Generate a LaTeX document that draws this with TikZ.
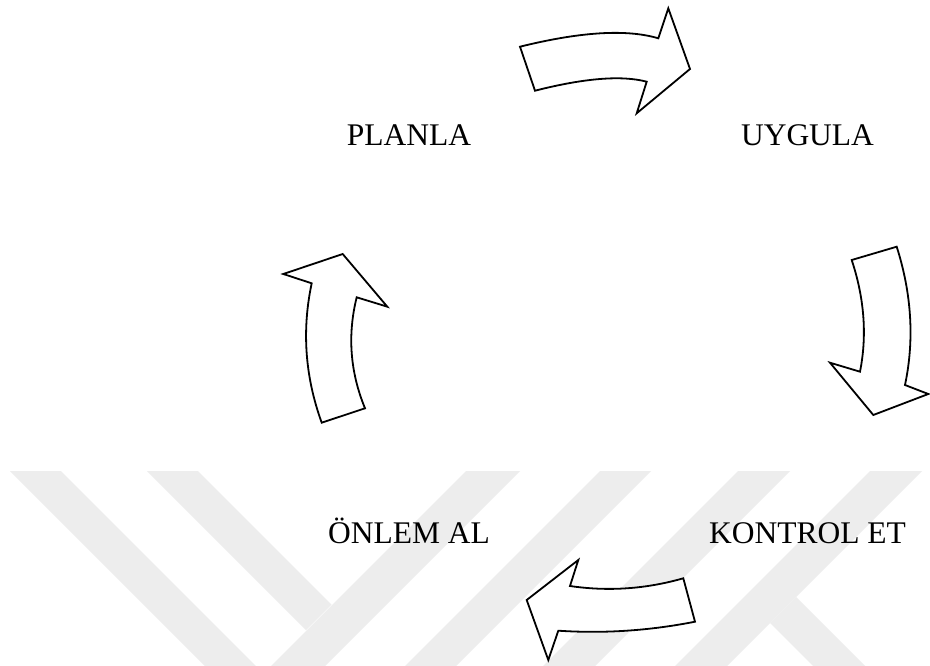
\documentclass[tikz,border=0pt]{standalone}
\usepackage{fontspec}
\setmainfont{Liberation Serif}
\definecolor{wm}{HTML}{EDEDED}
\begin{document}
\begin{tikzpicture}[x=1pt,y=-1pt,
  blockarrow/.style={draw=black, fill=white, line width=1.8pt, line join=miter, miter limit=10},
  wmband/.style={fill=wm, draw=none},
  lbl/.style={inner sep=0pt, anchor=base, font=\fontsize{31.5}{36}\selectfont}]
\useasboundingbox (0,0) rectangle (930,666);
\fill[white] (0,0) rectangle (930,666);
% watermark
\fill[wmband] (10,471) -- (61,471) -- (256,666) -- (205,666) -- cycle;
\fill[wmband] (147,471) -- (198,471) -- (331.5,604.5) -- (306,630) -- cycle;
\fill[wmband] (466,471) -- (520,471) -- (325,666) -- (271,666) -- cycle;
\fill[wmband] (600,471) -- (651,471) -- (456,666) -- (405,666) -- cycle;
\fill[wmband] (738,471) -- (790,471) -- (595,666) -- (543,666) -- cycle;
\fill[wmband] (870,471) -- (922,471) -- (727,666) -- (675,666) -- cycle;
\fill[wmband] (770,623) -- (796,597) -- (865,666) -- (813,666) -- cycle;
% top arrow (PLANLA -> UYGULA)
\draw[blockarrow] (520,46.7) .. controls (580.5,31.7) and (626.6,28.9) .. (658.3,38.3)
  -- (668.3,8.3) -- (690,69) -- (636.7,113.3) -- (646.7,81.7)
  .. controls (621.7,75.1) and (584.5,78.1) .. (535,90.7) -- cycle;
% right arrow (UYGULA -> KONTROL ET)
\draw[blockarrow] (851.7,260) -- (896.7,246.7) .. controls (911.7,293.9) and (914.5,340) .. (905,385)
  -- (928.3,394) -- (873.3,415) -- (830,362.7) -- (860,371.7)
  .. controls (867.2,335.6) and (864.4,298.3) .. (851.7,260) -- cycle;
% bottom arrow (KONTROL ET -> ONLEM AL)
\draw[blockarrow] (683.3,578.3) -- (695,621.7) .. controls (649.5,630.7) and (603.9,633.7) .. (558.3,630.7)
  -- (548.3,660) -- (526.7,600) -- (578.3,560) -- (570,586)
  .. controls (607.8,591.6) and (645.6,589.1) .. (683.3,578.3) -- cycle;
% left arrow (ONLEM AL -> PLANLA)
\draw[blockarrow] (321.7,422.7) -- (365,408.3) .. controls (350.1,372) and (347.3,335) .. (356.7,297.3)
  -- (387.3,306.7) -- (342.7,254) -- (283.3,274) -- (311.7,283.3)
  .. controls (301.7,330.2) and (305,376.6) .. (321.7,422.7) -- cycle;
% labels
\node[lbl] (planla) at (409,146) {PLANLA};
\node[lbl] (uygula) at (807.5,146) {UYGULA};
\node[lbl] (kontrol) at (807.5,543) {KONTROL ET};
\node[lbl] (onlem) at (409,543) {ÖNLEM AL};
\end{tikzpicture}
\end{document}
